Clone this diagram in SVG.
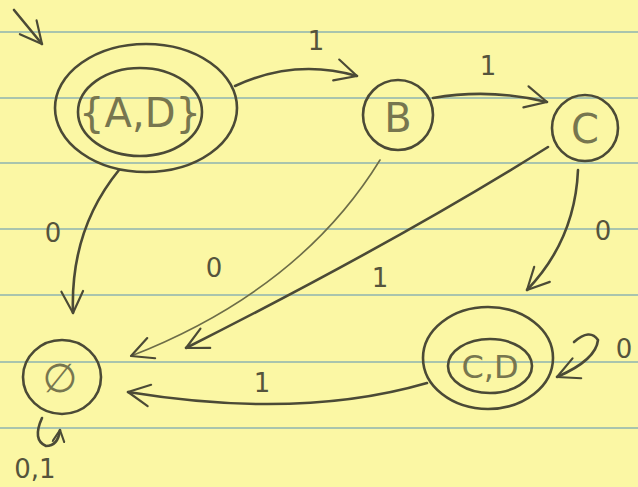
<svg xmlns="http://www.w3.org/2000/svg" width="638" height="487" viewBox="0 0 638 487">
<defs>
<style>
.ln{stroke:#a9c4ad;stroke-width:2}
.st{fill:none;stroke:#4b4a36;stroke-width:2.6;stroke-linecap:round;stroke-linejoin:round}
.thin{fill:none;stroke:#6d6d48;stroke-width:1.6;stroke-linecap:round}
.nl{font-family:"DejaVu Sans",sans-serif;fill:#77764f;text-anchor:middle}
.el{font-family:"DejaVu Sans",sans-serif;fill:#55543c;text-anchor:middle;font-size:26px}
</style>
<marker id="ah" viewBox="0 0 12 12" refX="11" refY="6" markerWidth="14" markerHeight="14" orient="auto" markerUnits="userSpaceOnUse">
<path d="M1,1 L11,6 L1,11" fill="none" stroke="#4b4a36" stroke-width="1.8" stroke-linecap="round" stroke-linejoin="round"/>
</marker>
<marker id="ah2" viewBox="0 0 12 12" refX="11" refY="6" markerWidth="26" markerHeight="26" orient="auto" markerUnits="userSpaceOnUse">
<path d="M1,1 L11,6 L1,11" fill="none" stroke="#4b4a36" stroke-width="1" stroke-linecap="round" stroke-linejoin="round"/>
</marker>
</defs>
<rect width="638" height="487" fill="#fbf7a4"/>
<g id="paper">
<line class="ln" x1="0" y1="32" x2="638" y2="32"/>
<line class="ln" x1="0" y1="98" x2="638" y2="98"/>
<line class="ln" x1="0" y1="163" x2="638" y2="163"/>
<line class="ln" x1="0" y1="229" x2="638" y2="229"/>
<line class="ln" x1="0" y1="295" x2="638" y2="295"/>
<line class="ln" x1="0" y1="362" x2="638" y2="362"/>
<line class="ln" x1="0" y1="428" x2="638" y2="428"/>
</g>
<g id="connectors">
<path class="st" d="M14,10 L42,44" marker-end="url(#ah2)"/>
<path class="st" d="M235,86 Q295,58 357,76" marker-end="url(#ah2)"/>
<path class="st" d="M433,98 Q490,88 547,102" marker-end="url(#ah2)"/>
<path class="st" d="M119,170 Q70,230 73,313" marker-end="url(#ah2)"/>
<path class="thin" d="M380,160 Q300,290 131,356" marker-end="url(#ah2)"/>
<path class="st" d="M548,147 Q400,240 186,348" marker-end="url(#ah2)"/>
<path class="st" d="M578,170 Q575,240 527,290" marker-end="url(#ah2)"/>
<path class="st" d="M427,383 Q300,420 128,392" marker-end="url(#ah2)"/>
<path class="st" d="M574,342 Q590,328 598,340 Q596,360 557,377" marker-end="url(#ah2)"/>
<path class="st" d="M42,418 Q32,440 46,446 Q58,446 60,430" marker-end="url(#ah)"/>
<text class="el" x="316" y="50">1</text>
<text class="el" x="488" y="75">1</text>
<text class="el" x="53" y="242">0</text>
<text class="el" x="214" y="277">0</text>
<text class="el" x="380" y="287">1</text>
<text class="el" x="603" y="240">0</text>
<text class="el" x="262" y="392">1</text>
<text class="el" x="624" y="358">0</text>
<text class="el" x="35" y="478">0,1</text>
</g>
<g id="node-AD">
<ellipse class="st" cx="146" cy="108" rx="91" ry="64"/>
<ellipse class="st" cx="140" cy="112" rx="62" ry="44"/>
<text class="nl" x="140" y="127" font-size="40">{A,D}</text>
</g>
<g id="node-B">
<circle class="st" cx="398" cy="115" r="35"/>
<text class="nl" x="398" y="132" font-size="40">B</text>
</g>
<g id="node-C">
<circle class="st" cx="585" cy="128" r="33"/>
<text class="nl" x="585" y="143" font-size="40">C</text>
</g>
<g id="node-empty">
<ellipse class="st" cx="62" cy="377" rx="39" ry="37"/>
<text class="nl" x="60" y="392" font-size="40">∅</text>
</g>
<g id="node-CD">
<ellipse class="st" cx="488" cy="358" rx="65" ry="51"/>
<ellipse class="st" cx="490" cy="366" rx="42" ry="27"/>
<text class="nl" x="490" y="378" font-size="32">C,D</text>
</g>
</svg>
